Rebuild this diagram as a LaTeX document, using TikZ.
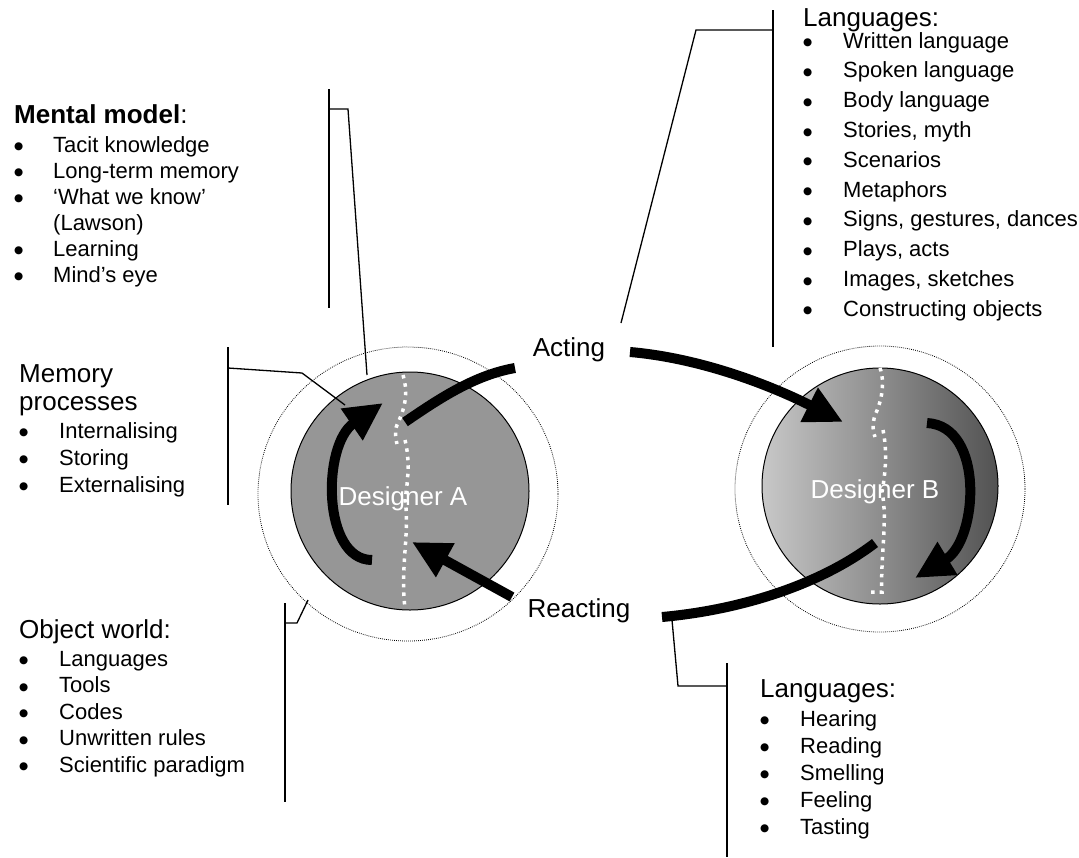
\documentclass[tikz,border=0pt]{standalone}
\usepackage{fontspec}
\setmainfont{Liberation Sans}
\newfontfamily\djv{DejaVu Sans}
\newcommand\blt{\raisebox{2.4pt}{\djv\fontsize{10.5}{10.5}\selectfont ●}}
\usetikzlibrary{arrows.meta}
\begin{document}
\begin{tikzpicture}[x=1pt,y=-1pt,
  brk/.style={line width=1.3pt, line join=miter},
  bigarrow/.style={line width=10pt, -{Triangle[length=38pt,width=36pt]}},
  thickline/.style={line width=10pt},
  wdots/.style={white, line width=3.5pt, dash pattern=on 3.5pt off 5pt},
  orbit/.style={line width=0.8pt, dash pattern=on 0.8pt off 1.2pt},
  head/.style={anchor=base west, inner sep=0pt, font=\fontsize{26}{28}\selectfont},
  list/.style={anchor=base west, inner sep=0pt},
  lbl/.style={inner sep=0pt, anchor=base, font=\fontsize{26}{30}\selectfont}]
\useasboundingbox (0,0) rectangle (1079,857);

% outer dotted circles
\draw[orbit] (408,494) ellipse [x radius=150pt, y radius=147pt];
\draw[orbit] (880,489) ellipse [x radius=145pt, y radius=143pt];

% designers
\draw[fill={rgb,255:red,150;green,150;blue,150}, line width=1pt] (410,491) circle [radius=119pt];
\shade[left color={rgb,255:red,200;green,200;blue,200}, right color={rgb,255:red,82;green,82;blue,82}] (880,486) circle [radius=118pt];
\draw[line width=1pt] (880,486) circle [radius=118pt];

% white dotted separators
\draw[wdots] (403,375) .. controls (409,395) and (404,410) .. (397,425) .. controls (394,432) and (396,440) .. (397,444);
\draw[wdots] (405,440) .. controls (410,460) and (408,480) .. (405,500) .. controls (410,530) and (400,570) .. (405,608);
\draw[wdots] (880,368) .. controls (886,385) and (880,405) .. (875,415) .. controls (872,425) and (873,432) .. (875,437);
\draw[wdots] (883,430) .. controls (887,450) and (886,470) .. (882,492) .. controls (888,520) and (880,560) .. (882,592) -- (870,592);

% labels in circles
\node[lbl, text=white] (da) at (403,505) {Designer A};
\node[lbl, text=white] (db) at (875,498) {Designer B};
\node[lbl] (acting) at (569,356) {Acting};
\node[lbl] (reacting) at (579,617) {Reacting};

% thick arrows
\coordinate (a1) at (630,352);
\coordinate (a2) at (843,422);
\draw[bigarrow] (a1) .. controls (700,358) and (770,385) .. (a2);
\coordinate (b1) at (515,368);
\coordinate (b2) at (405,422);
\draw[thickline] (b1) .. controls (475,375) and (440,398) .. (b2);
\coordinate (c1) at (372,560);
\coordinate (c2) at (383,403);
\draw[bigarrow] (c1) .. controls (322,560) and (322,445) .. (c2);
\coordinate (d1) at (512,597);
\coordinate (d2) at (412,542);
\draw[bigarrow] (d1) -- (d2);
\coordinate (e1) at (662,617);
\coordinate (e2) at (875,543);
\draw[thickline] (e1) .. controls (740,610) and (820,585) .. (e2);
\coordinate (f1) at (927,423);
\coordinate (f2) at (915,578);
\draw[bigarrow] (f1) .. controls (985,426) and (978,540) .. (f2);

% texts
\node[head] (mmh) at (14,123) {\textbf{Mental model}:};
\node[list] (mml) at (14,152) {\fontsize{22}{26}\selectfont\begin{tabular}[t]{@{}p{39pt}@{}l@{}}
\blt&Tacit knowledge\\
\blt&Long-term memory\\
\blt&‘What we know’\\
&(Lawson)\\
\blt&Learning\\
\blt&Mind’s eye\end{tabular}};

\node[list] (mph) at (19,382) {\fontsize{26}{28}\selectfont\begin{tabular}[t]{@{}l@{}}Memory\\processes\end{tabular}};
\node[list] (mpl) at (19,438) {\fontsize{22}{27}\selectfont\begin{tabular}[t]{@{}p{40pt}@{}l@{}}
\blt&Internalising\\
\blt&Storing\\
\blt&Externalising\end{tabular}};

\node[head] (owh) at (19,638) {Object world:};
\node[list] (owl) at (19,666) {\fontsize{22}{26.5}\selectfont\begin{tabular}[t]{@{}p{40pt}@{}l@{}}
\blt&Languages\\
\blt&Tools\\
\blt&Codes\\
\blt&Unwritten rules\\
\blt&Scientific paradigm\end{tabular}};

\node[head] (trh) at (803,26) {Languages:};
\node[list] (trl) at (803,48) {\fontsize{22}{29.8}\selectfont\begin{tabular}[t]{@{}p{40pt}@{}l@{}}
\blt&Written language\\
\blt&Spoken language\\
\blt&Body language\\
\blt&Stories, myth\\
\blt&Scenarios\\
\blt&Metaphors\\
\blt&Signs, gestures, dances\\
\blt&Plays, acts\\
\blt&Images, sketches\\
\blt&Constructing objects\end{tabular}};

\node[head] (brh) at (760,697) {Languages:};
\node[list] (brl) at (760,726) {\fontsize{22}{27}\selectfont\begin{tabular}[t]{@{}p{40pt}@{}l@{}}
\blt&Hearing\\
\blt&Reading\\
\blt&Smelling\\
\blt&Feeling\\
\blt&Tasting\end{tabular}};

% brackets
\coordinate (m1) at (329,89);  \coordinate (m2) at (329,308);
\coordinate (m3) at (329,109); \coordinate (m4) at (348,109); \coordinate (m5) at (367,375);
\draw[brk] (m1) -- (m2);
\draw[brk] (m3) -- (m4) -- (m5);

\coordinate (p1) at (228,347); \coordinate (p2) at (228,505);
\coordinate (p3) at (228,368); \coordinate (p4) at (302,373); \coordinate (p5) at (345,405);
\draw[brk] (p1) -- (p2);
\draw[brk] (p3) -- (p4) -- (p5);

\coordinate (o1) at (285,603); \coordinate (o2) at (285,802);
\coordinate (o3) at (285,623); \coordinate (o4) at (297,623); \coordinate (o5) at (308,600);
\draw[brk] (o1) -- (o2);
\draw[brk] (o3) -- (o4) -- (o5);

\coordinate (t1) at (773,10); \coordinate (t2) at (773,347);
\coordinate (t3) at (773,30); \coordinate (t4) at (696,30); \coordinate (t5) at (621,323);
\draw[brk] (t1) -- (t2);
\draw[brk] (t3) -- (t4) -- (t5);

\coordinate (r1) at (727,663); \coordinate (r2) at (727,857);
\coordinate (r3) at (727,686); \coordinate (r4) at (678,686); \coordinate (r5) at (672,620);
\draw[brk] (r1) -- (r2);
\draw[brk] (r3) -- (r4) -- (r5);
\end{tikzpicture}
\end{document}
